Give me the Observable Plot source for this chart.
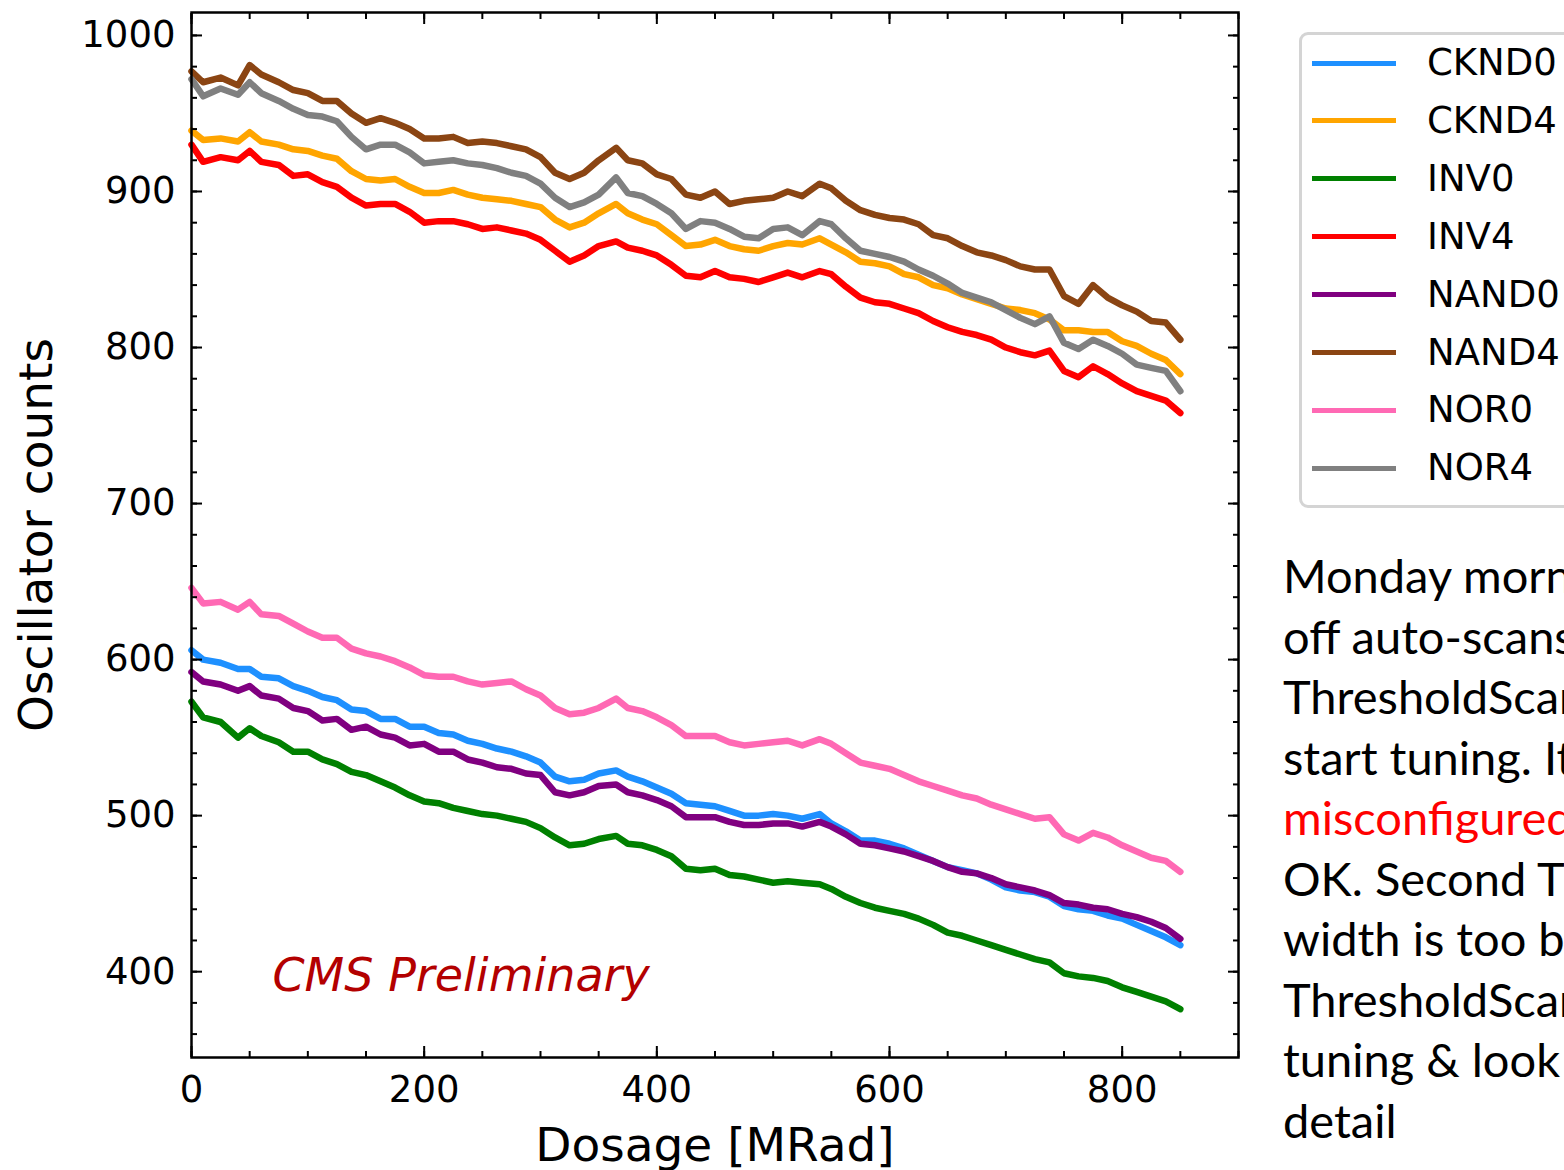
<!DOCTYPE html>
<html>
<head>
<meta charset="utf-8">
<script src="https://cdn.jsdelivr.net/npm/d3@7"></script>
<script src="https://cdn.jsdelivr.net/npm/@observablehq/plot@0.6"></script>
<style>
html, body { margin: 0; padding: 0; background: #fff; }
body { width: 1564px; height: 1170px; overflow: hidden; position: relative; font-family: "DejaVu Sans", sans-serif; }
#chart { position: absolute; left: 0; top: 0; }
#legend { position: absolute; left: 1299px; top: 32px; width: 420px; height: 476px; border: 3px solid #d4d4d4; border-radius: 9px; box-sizing: border-box; background: #fff; }
#legend .sw { position: absolute; left: 10px; width: 84px; height: 5px; }
#legend .lb { position: absolute; left: 125px; height: 50px; line-height: 50px; font-size: 37px; font-family: "DejaVu Sans", sans-serif; color: #000; white-space: nowrap; }
#notes { position: absolute; left: 1283px; top: 545px; font-family: Lato, "Open Sans", sans-serif; font-size: 47px; line-height: 60.5px; white-space: nowrap; color: #000; }
#notes .red { color: #ff0000; }
</style>
</head>
<body>
<div id="chart"></div>
<div id="legend"></div>
<div id="notes"></div>
<script>
// ---- data ----
const doses = [0,10,25,40,50,60,75,
  87.5,100,112.5,125,137.5,150,162.5,175,187.5,200,
  212.5,225,237.5,250,262.5,275,287.5,300,
  312.5,325,337.5,350,365,375,387.5,400,
  412.5,425,437.5,450,462.5,475,487.5,500,
  512.5,525,540,550,562.5,575,587.5,600,
  612.5,625,637.5,650,662.5,675,687.5,700,
  712.5,725,737.5,750,762.5,775,787.5,800,
  812.5,825,837.5,850];

const CKND0 = [606,600,598,594,594,589,588,
  583,580,576,574,568,567,562,562,557,557,
  553,552,548,546,543,541,538,534,
  525,522,523,527,529,525,522,518,
  514,508,507,506,503,500,500,501,
  500,498,501,495,490,484,484,482,
  479,475,471,467,465,463,459,454,
  452,451,448,442,440,439,436,434,
  430,426,422,417];
const CKND4 = [939,933,934,932,938,932,930,
  927,926,923,921,913,908,907,908,903,899,
  899,901,898,896,895,894,892,890,
  882,877,880,886,892,886,882,879,
  872,865,866,869,865,863,862,865,
  867,866,870,866,861,855,854,852,
  847,845,840,838,834,831,828,825,
  824,822,818,811,811,810,810,804,
  801,796,792,783];
const INV0 = [573,563,560,550,556,551,547,
  541,541,536,533,528,526,522,518,513,509,
  508,505,503,501,500,498,496,492,
  486,481,482,485,487,482,481,478,
  474,466,465,466,462,461,459,457,
  458,457,456,453,448,444,441,439,
  437,434,430,425,423,420,417,414,
  411,408,406,399,397,396,394,390,
  387,384,381,376];
const INV4 = [930,919,922,920,926,919,917,
  910,911,906,903,896,891,892,892,887,880,
  881,881,879,876,877,875,873,869,
  862,855,859,865,868,864,862,859,
  853,846,845,849,845,844,842,845,
  848,845,849,847,839,832,829,828,
  825,822,817,813,810,808,805,800,
  797,795,798,785,781,788,783,777,
  772,769,766,758];
const NAND0 = [592,586,584,580,583,577,575,
  569,567,561,562,555,557,552,550,545,546,
  541,541,536,534,531,530,527,526,
  515,513,515,519,520,515,513,510,
  506,499,499,499,496,494,494,495,
  495,493,496,493,488,482,481,479,
  477,474,471,467,464,463,460,456,
  454,452,449,444,443,441,440,437,
  435,432,428,421];
const NAND4 = [977,970,973,968,981,975,970,
  965,963,958,958,950,944,947,944,940,934,
  934,935,931,932,931,929,927,922,
  912,908,912,920,928,920,918,911,
  908,898,896,900,892,894,895,896,
  900,897,905,902,894,888,885,883,
  882,879,872,870,865,861,859,856,
  852,850,850,833,828,840,832,827,
  823,817,816,805];
const NOR0 = [646,636,637,632,637,629,628,
  623,618,614,614,607,604,602,599,595,590,
  589,589,586,584,585,586,581,577,
  569,565,566,569,575,569,567,563,
  558,551,551,551,547,545,546,547,
  548,545,549,546,540,534,532,530,
  526,522,519,516,513,511,507,504,
  501,498,499,488,484,489,486,481,
  477,473,471,464];
const NOR4 = [972,961,966,962,970,963,958,
  953,949,948,945,935,927,930,930,925,918,
  919,920,918,917,915,912,910,905,
  896,890,893,898,909,899,897,892,
  886,876,881,880,876,871,870,876,
  877,872,881,879,870,862,860,858,
  855,850,846,841,835,832,829,824,
  819,815,820,803,799,805,801,796,
  789,787,785,772];

const seriesNames  = ["CKND0","CKND4","INV0","INV4","NAND0","NAND4","NOR0","NOR4"];
const seriesValues = [CKND0, CKND4, INV0, INV4, NAND0, NAND4, NOR0, NOR4];
const seriesColors = ["#1e90ff","#ffa500","#008000","#ff0000","#800080","#8b4513","#ff69b4","#808080"];

const xMajor = [0,200,400,600,800];
const xMinor = d3.range(0, 901, 50);
const yMajor = [400,500,600,700,800,900,1000];
const yMinor = d3.range(360, 1001, 20);

const xLabel = "Dosage [MRad]";
const yLabel = "Oscillator counts";
const stamp = "CMS Preliminary";

const noteLines = [
  {text: "Monday morning", red: false},
  {text: "off auto-scans", red: false},
  {text: "ThresholdScan", red: false},
  {text: "start tuning. It", red: false},
  {text: "misconfigured", red: true},
  {text: "OK. Second TS", red: false},
  {text: "width is too big", red: false},
  {text: "ThresholdScan", red: false},
  {text: "tuning & look", red: false},
  {text: "detail", red: false}
];

// ---- table ----
const table = [];
seriesNames.forEach((name, i) => {
  doses.forEach((d, j) => table.push({series: name, dose: d, value: seriesValues[i][j]}));
});

const blank = () => "";
const plot = Plot.plot({
  width: 1564,
  height: 1170,
  marginLeft: 191,
  marginRight: 326,
  marginTop: 12,
  marginBottom: 113,
  x: {domain: [0, 900], label: null},
  y: {domain: [345, 1014.7], label: null},
  color: {domain: seriesNames, range: seriesColors},
  style: {fontFamily: "DejaVu Sans", fontSize: "37px", color: "black", background: "white"},
  marks: [
    Plot.line(table, {x: "dose", y: "value", z: "series", stroke: "series", strokeWidth: 6.5, strokeLinejoin: "round", strokeLinecap: "round"}),
    Plot.frame({stroke: "black", strokeWidth: 2.5}),
    // minor ticks (inward) on all sides
    Plot.axisX({anchor: "bottom", ticks: xMinor, tickSize: -6, strokeWidth: 2, tickFormat: blank, label: null}),
    Plot.axisX({anchor: "top", ticks: xMinor, tickSize: -6, strokeWidth: 2, tickFormat: blank, label: null}),
    Plot.axisY({anchor: "left", ticks: yMinor, tickSize: -6, strokeWidth: 2, tickFormat: blank, label: null}),
    Plot.axisY({anchor: "right", ticks: yMinor, tickSize: -6, strokeWidth: 2, tickFormat: blank, label: null}),
    // major ticks (inward)
    Plot.axisX({anchor: "bottom", ticks: xMajor, tickSize: -11, strokeWidth: 2, tickFormat: blank, label: null}),
    Plot.axisX({anchor: "top", ticks: xMajor, tickSize: -11, strokeWidth: 2, tickFormat: blank, label: null}),
    Plot.axisY({anchor: "left", ticks: yMajor, tickSize: -11, strokeWidth: 2, tickFormat: blank, label: null}),
    Plot.axisY({anchor: "right", ticks: yMajor, tickSize: -11, strokeWidth: 2, tickFormat: blank, label: null}),
    // tick labels
    Plot.axisX({anchor: "bottom", ticks: xMajor, tickSize: 0, tickPadding: 18.5, fontSize: 37, tickFormat: d3.format("d"), label: null}),
    Plot.axisY({anchor: "left", ticks: yMajor, tickSize: 0, tickPadding: 16, fontSize: 37, tickFormat: d3.format("d"), label: null}),
    // axis titles
    Plot.text([xLabel], {text: d => d, frameAnchor: "bottom", dy: 103, textAnchor: "middle", lineAnchor: "bottom", fontSize: 47, fill: "black"}),
    Plot.text([yLabel], {text: d => d, frameAnchor: "left", dx: -140, rotate: -90, textAnchor: "middle", lineAnchor: "bottom", fontSize: 47, fill: "black"}),
    Plot.text([stamp], {text: d => d, frameAnchor: "bottom-left", dx: 81, dy: -67, textAnchor: "start", lineAnchor: "bottom", fontSize: 46, fontStyle: "italic", fill: "#b30000"})
  ]
});
document.getElementById("chart").appendChild(plot);

// ---- legend ----
const legend = document.getElementById("legend");
seriesNames.forEach((name, i) => {
  const cy = 28 + i * 57.9;
  const sw = document.createElement("div");
  sw.className = "sw";
  sw.style.top = (cy - 2.5) + "px";
  sw.style.background = seriesColors[i];
  legend.appendChild(sw);
  const lb = document.createElement("div");
  lb.className = "lb";
  lb.style.top = (cy - 25) + "px";
  lb.textContent = name;
  legend.appendChild(lb);
});

// ---- notes ----
const notes = document.getElementById("notes");
noteLines.forEach(l => {
  const div = document.createElement("div");
  if (l.red) div.className = "red";
  div.textContent = l.text;
  notes.appendChild(div);
});
</script>
</body>
</html>
